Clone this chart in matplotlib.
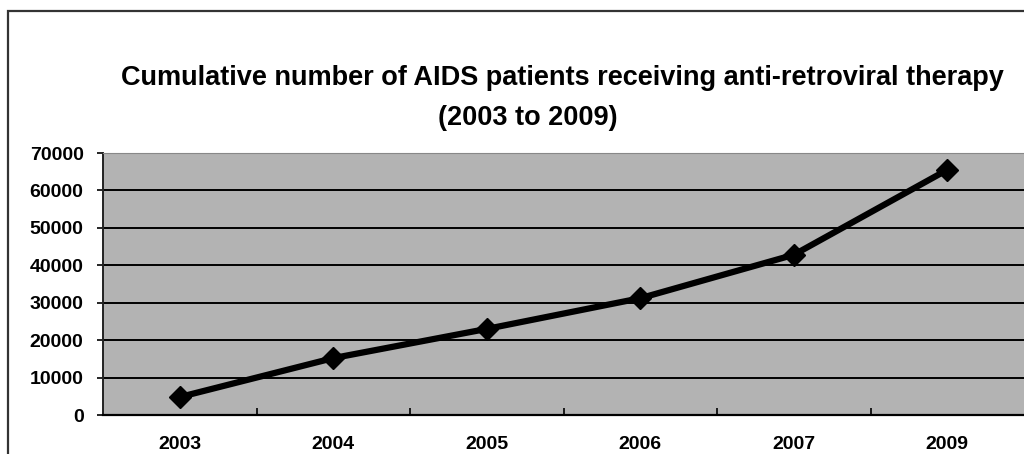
import matplotlib.pyplot as plt
from matplotlib.patches import Rectangle

years = ['2003', '2004', '2005', '2006', '2007', '2009']
patients = [4800, 15200, 23000, 31200, 42800, 65500]
y_ticks = [0, 10000, 20000, 30000, 40000, 50000, 60000, 70000]

title_line1 = 'Cumulative number of AIDS patients receiving anti-retroviral therapy'
title_line2 = '(2003 to 2009)'

fig = plt.figure(figsize=(10.24, 4.54), dpi=100)
fig.patch.set_facecolor('white')

# outer chart frame, running off the right and bottom edges
fig.patches.append(Rectangle((8 / 1024, -0.05), 1.1, 1 - 11 / 454 + 0.05,
                             transform=fig.transFigure, fill=False,
                             edgecolor='#333333', linewidth=1.6))

ax = fig.add_axes([103 / 1024, 1 - 415 / 454, 1 - 103 / 1024, (415 - 153) / 454])
ax.set_facecolor('#b3b3b3')

x = list(range(len(years)))
ax.plot(x, patients, color='black', linewidth=4.5, marker='D', markersize=11,
        markerfacecolor='black', markeredgecolor='black', zorder=3)

ax.set_xlim(-0.5, len(years) - 0.5)
ax.set_ylim(0, 70000)
ax.set_yticks(y_ticks)
ax.set_yticklabels([str(v) for v in y_ticks])
ax.yaxis.grid(True, color='black', linewidth=1.4)
ax.set_axisbelow(True)

ax.set_xticks(x)
ax.set_xticklabels(years)
ax.set_xticks([i + 0.5 for i in range(len(years) - 1)], minor=True)
ax.tick_params(axis='x', which='major', length=0, pad=15)
ax.tick_params(axis='x', which='minor', direction='in', length=5, width=1.2)
ax.tick_params(axis='y', length=4, width=1.2, pad=10)

for lab in ax.get_xticklabels() + ax.get_yticklabels():
    lab.set_fontfamily(['Liberation Sans', 'DejaVu Sans'])
    lab.set_fontweight('bold')
    lab.set_fontsize(14)

ax.spines['top'].set_color('#888888')
ax.spines['right'].set_visible(False)
ax.spines['left'].set_color('#222222')
ax.spines['bottom'].set_color('black')
ax.spines['left'].set_linewidth(1.4)
ax.spines['bottom'].set_linewidth(1.6)

fig.text(562 / 1024, 1 - 78 / 454, title_line1, ha='center', va='center',
         fontsize=19.5, fontweight='bold', family=['Liberation Sans', 'DejaVu Sans'])
fig.text(528 / 1024, 1 - 118 / 454, title_line2, ha='center', va='center',
         fontsize=19.5, fontweight='bold', family=['Liberation Sans', 'DejaVu Sans'])

fig.savefig('out.png', dpi=100)
